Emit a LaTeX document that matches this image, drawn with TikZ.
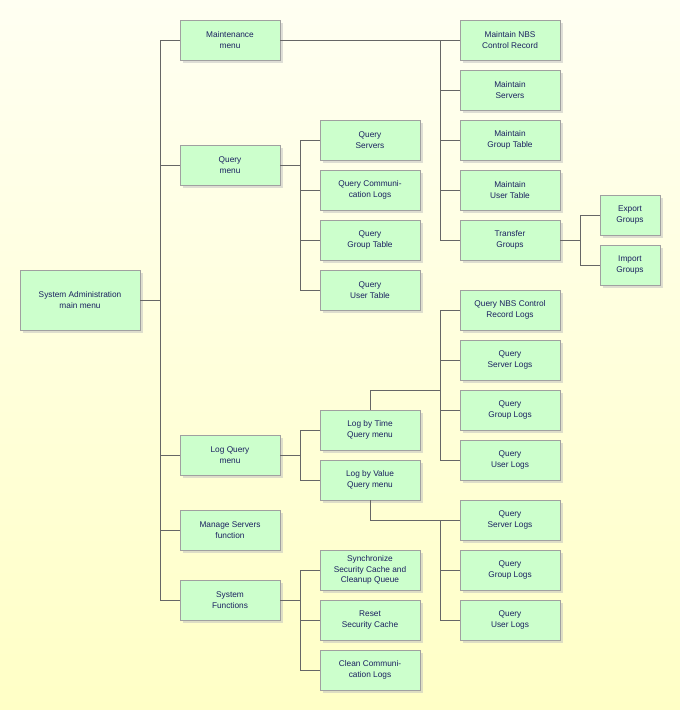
\documentclass[tikz,border=0pt]{standalone}
\usepackage{fontspec}
\setmainfont{Liberation Sans}
\usetikzlibrary{shadows}

\definecolor{boxfill}{HTML}{CCFFCC}
\definecolor{boxline}{HTML}{A0A0A0}
\definecolor{boxtext}{HTML}{1A2060}
\definecolor{bgtop}{HTML}{FFFFF2}
\definecolor{bgbot}{HTML}{FFFFC6}

\tikzset{
menubox/.style={draw=boxline, fill=boxfill, text=boxtext, align=center,
  minimum width=100pt, minimum height=40pt, inner sep=1pt,
  font=\fontsize{8.3}{10.5}\selectfont,
  drop shadow={shadow xshift=3pt, shadow yshift=-3pt, fill=black!25}},
smallbox/.style={menubox, minimum width=60pt},
bigbox/.style={menubox, minimum width=120pt, minimum height=60pt},
link/.style={draw=black!60, line width=0.6pt}
}

\begin{document}
\begin{tikzpicture}[x=1pt,y=-1pt]
\shade[top color=bgtop, bottom color=bgbot] (0,0) rectangle (680,710);
\useasboundingbox (0,0) rectangle (680,710);

% first level
\node[bigbox] (sys) at (80,300) {System Administration\\main menu};
\node[menubox] (mnt) at (230,40) {Maintenance\\menu};
\node[menubox] (qry) at (230,165) {Query\\menu};
\node[menubox] (lgq) at (230,455) {Log Query\\menu};
\node[menubox] (mng) at (230,530) {Manage Servers\\function};
\node[menubox] (sysf) at (230,600) {System\\Functions};

% query menu
\node[menubox] (qsrv) at (370,140) {Query\\Servers};
\node[menubox] (qcom) at (370,190) {Query Communi-\\cation Logs};
\node[menubox] (qgrp) at (370,240) {Query\\Group Table};
\node[menubox] (qusr) at (370,290) {Query\\User Table};

% log query menu
\node[menubox] (ltime) at (370,430) {Log by Time\\Query menu};
\node[menubox] (lval) at (370,480) {Log by Value\\Query menu};

% system functions
\node[menubox] (sync) at (370,570) {Synchronize\\Security Cache and\\Cleanup Queue};
\node[menubox] (rst) at (370,620) {Reset\\Security Cache};
\node[menubox] (cln) at (370,670) {Clean Communi-\\cation Logs};

% maintenance menu
\node[menubox] (mnbs) at (510,40) {Maintain NBS\\Control Record};
\node[menubox] (msrv) at (510,90) {Maintain\\Servers};
\node[menubox] (mgrp) at (510,140) {Maintain\\Group Table};
\node[menubox] (musr) at (510,190) {Maintain\\User Table};
\node[menubox] (tgrp) at (510,240) {Transfer\\Groups};
\node[smallbox] (exg) at (630,215) {Export\\Groups};
\node[smallbox] (img) at (630,265) {Import\\Groups};

% log by time
\node[menubox] (tnbs) at (510,310) {Query NBS Control\\Record Logs};
\node[menubox] (tsrv) at (510,360) {Query\\Server Logs};
\node[menubox] (tgl) at (510,410) {Query\\Group Logs};
\node[menubox] (tusr) at (510,460) {Query\\User Logs};

% log by value
\node[menubox] (vsrv) at (510,520) {Query\\Server Logs};
\node[menubox] (vgl) at (510,570) {Query\\Group Logs};
\node[menubox] (vusr) at (510,620) {Query\\User Logs};

% trunks
\coordinate (b1) at (160,40);  \coordinate (b1e) at (160,600);
\coordinate (b2) at (300,140); \coordinate (b2e) at (300,290);
\coordinate (b3) at (300,430); \coordinate (b3e) at (300,480);
\coordinate (b4) at (300,570); \coordinate (b4e) at (300,670);
\coordinate (b5) at (440,40);  \coordinate (b5e) at (440,240);
\coordinate (b6) at (440,310); \coordinate (b6e) at (440,460);
\coordinate (b7) at (440,520); \coordinate (b7e) at (440,620);
\coordinate (b8) at (580,215); \coordinate (b8e) at (580,265);
\coordinate (tk) at (370,390); \coordinate (vk) at (370,520);

\begin{scope}[link]
\draw (b1) -- (b1e);
\draw (sys.east) -- (b1 |- sys.east);
\foreach \n in {mnt,qry,lgq,mng,sysf} \draw (b1 |- \n) -- (\n.west);
\draw (b2) -- (b2e);
\draw (qry.east) -- (b2 |- qry.east);
\foreach \n in {qsrv,qcom,qgrp,qusr} \draw (b2 |- \n) -- (\n.west);
\draw (b3) -- (b3e);
\draw (lgq.east) -- (b3 |- lgq.east);
\foreach \n in {ltime,lval} \draw (b3 |- \n) -- (\n.west);
\draw (b4) -- (b4e);
\draw (sysf.east) -- (b4 |- sysf.east);
\foreach \n in {sync,rst,cln} \draw (b4 |- \n) -- (\n.west);
\draw (b5) -- (b5e);
\draw (mnt.east) -- (b5);
\foreach \n in {mnbs,msrv,mgrp,musr,tgrp} \draw (b5 |- \n) -- (\n.west);
\draw (b6) -- (b6e);
\draw (ltime.north) -- (tk) -- (b6 |- tk);
\foreach \n in {tnbs,tsrv,tgl,tusr} \draw (b6 |- \n) -- (\n.west);
\draw (b7) -- (b7e);
\draw (lval.south) -- (vk) -- (b7);
\foreach \n in {vsrv,vgl,vusr} \draw (b7 |- \n) -- (\n.west);
\draw (b8) -- (b8e);
\draw (tgrp.east) -- (b8 |- tgrp.east);
\foreach \n in {exg,img} \draw (b8 |- \n) -- (\n.west);
\end{scope}
\end{tikzpicture}
\end{document}
